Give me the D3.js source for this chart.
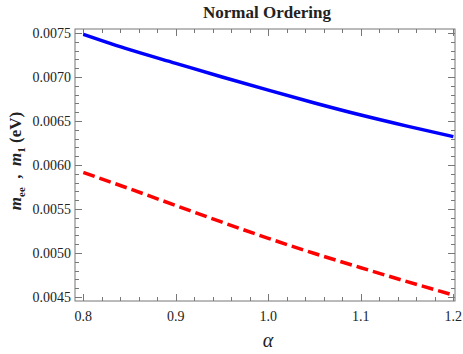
<!DOCTYPE html>
<html>
<head>
<meta charset="utf-8">
<script src="https://cdn.jsdelivr.net/npm/d3@7/dist/d3.min.js"></script>
<style>
  body { margin: 0; background: #fff; }
  text { font-family: "Liberation Serif", "Times New Roman", serif; fill: #222; }
</style>
</head>
<body>
<svg id="chart" width="463" height="354"></svg>
<script>
const width = 463;
const height = 354;
const margin = {left: 75, right: 8, top: 29, bottom: 53};

// data
const alpha = [0.8, 0.85, 0.9, 0.95, 1.0, 1.05, 1.1, 1.15, 1.2];
const mee = [0.007485, 0.00731, 0.007155, 0.007, 0.00685, 0.006705, 0.006568, 0.006442, 0.006322];
const m1 = [0.005915, 0.00573, 0.00554, 0.00535, 0.005167, 0.004995, 0.004833, 0.004675, 0.004523];
const xTicks = [0.8, 0.9, 1.0, 1.1, 1.2];
const yTicks = [0.0045, 0.005, 0.0055, 0.006, 0.0065, 0.007, 0.0075];

const svg = d3.select("#chart");

const x = d3.scaleLinear()
    .domain([0.791, 1.2018])
    .range([margin.left, width - margin.right]);
const y = d3.scaleLinear()
    .domain([0.004455, 0.007545])
    .range([height - margin.bottom, margin.top]);

const axisColor = "#777";
const x0 = margin.left, x1 = width - margin.right;
const y0 = height - margin.bottom, y1 = margin.top;

//------------ frame -------------------------------------------------//
svg.append("rect")
    .attr("x", x0).attr("y", y1)
    .attr("width", x1 - x0).attr("height", y0 - y1)
    .attr("fill", "none")
    .attr("stroke", axisColor)
    .attr("stroke-width", 1);

//------------ ticks (all four sides, inward) ------------------------//
const xMinor = d3.range(0.8, 1.2001, 0.02);
const yMinor = d3.range(0.0045, 0.00755, 0.0001);
const isMajor = (v, list) => list.some(t => Math.abs(t - v) < 1e-9);

const ticks = svg.append("g").attr("stroke", axisColor).attr("stroke-width", 1);
xMinor.forEach(v => {
    const len = isMajor(v, xTicks) ? 7 : 4;
    const px = Math.round(x(v)) + 0.5;
    ticks.append("line").attr("x1", px).attr("x2", px).attr("y1", y0).attr("y2", y0 - len);
    ticks.append("line").attr("x1", px).attr("x2", px).attr("y1", y1).attr("y2", y1 + len);
});
yMinor.forEach(v => {
    const len = isMajor(v, yTicks) ? 7 : 4;
    const py = Math.round(y(v)) + 0.5;
    ticks.append("line").attr("x1", x0).attr("x2", x0 + len).attr("y1", py).attr("y2", py);
    ticks.append("line").attr("x1", x1).attr("x2", x1 - len).attr("y1", py).attr("y2", py);
});

//------------ tick labels --------------------------------------------//
svg.append("g").selectAll("text")
    .data(xTicks)
    .join("text")
    .attr("x", d => x(d))
    .attr("y", y0 + 20)
    .attr("text-anchor", "middle")
    .attr("font-size", "14px")
    .text(d => d3.format(".1f")(d));

svg.append("g").selectAll("text")
    .data(yTicks)
    .join("text")
    .attr("x", x0 - 4)
    .attr("y", d => y(d))
    .attr("dy", "0.35em")
    .attr("text-anchor", "end")
    .attr("font-size", "14px")
    .text(d => d3.format(".4f")(d));

//------------ curves --------------------------------------------------//
const line = d3.line()
    .x(d => x(d[0]))
    .y(d => y(d[1]))
    .curve(d3.curveMonotoneX);

svg.append("path")
    .datum(d3.zip(alpha, mee))
    .attr("d", line)
    .attr("fill", "none")
    .attr("stroke", "#0000ff")
    .attr("stroke-width", 3.5);

svg.append("path")
    .datum(d3.zip(alpha, m1))
    .attr("d", line)
    .attr("fill", "none")
    .attr("stroke", "#ff0000")
    .attr("stroke-width", 3.5)
    .attr("stroke-dasharray", "12,5");

//------------ titles --------------------------------------------------//
svg.append("text")
    .attr("x", 267)
    .attr("y", 18)
    .attr("text-anchor", "middle")
    .attr("font-size", "17px")
    .attr("font-weight", "bold")
    .text("Normal Ordering");

svg.append("text")
    .attr("x", 268)
    .attr("y", 347)
    .attr("text-anchor", "middle")
    .attr("font-size", "20px")
    .attr("font-style", "italic")
    .text("α");

const yl = svg.append("text")
    .attr("transform", "translate(21,161) rotate(-90)")
    .attr("text-anchor", "middle")
    .attr("font-size", "17px")
    .attr("font-weight", "bold");
yl.append("tspan").attr("font-style", "italic").text("m");
yl.append("tspan").attr("font-size", "11px").attr("dy", 4).text("ee");
yl.append("tspan").attr("dy", -4).text("\u00a0\u00a0,\u00a0\u00a0");
yl.append("tspan").attr("font-style", "italic").text("m");
yl.append("tspan").attr("font-size", "11px").attr("dy", 4).text("1");
yl.append("tspan").attr("dy", -4).text("\u00a0(eV)");
</script>
</body>
</html>
